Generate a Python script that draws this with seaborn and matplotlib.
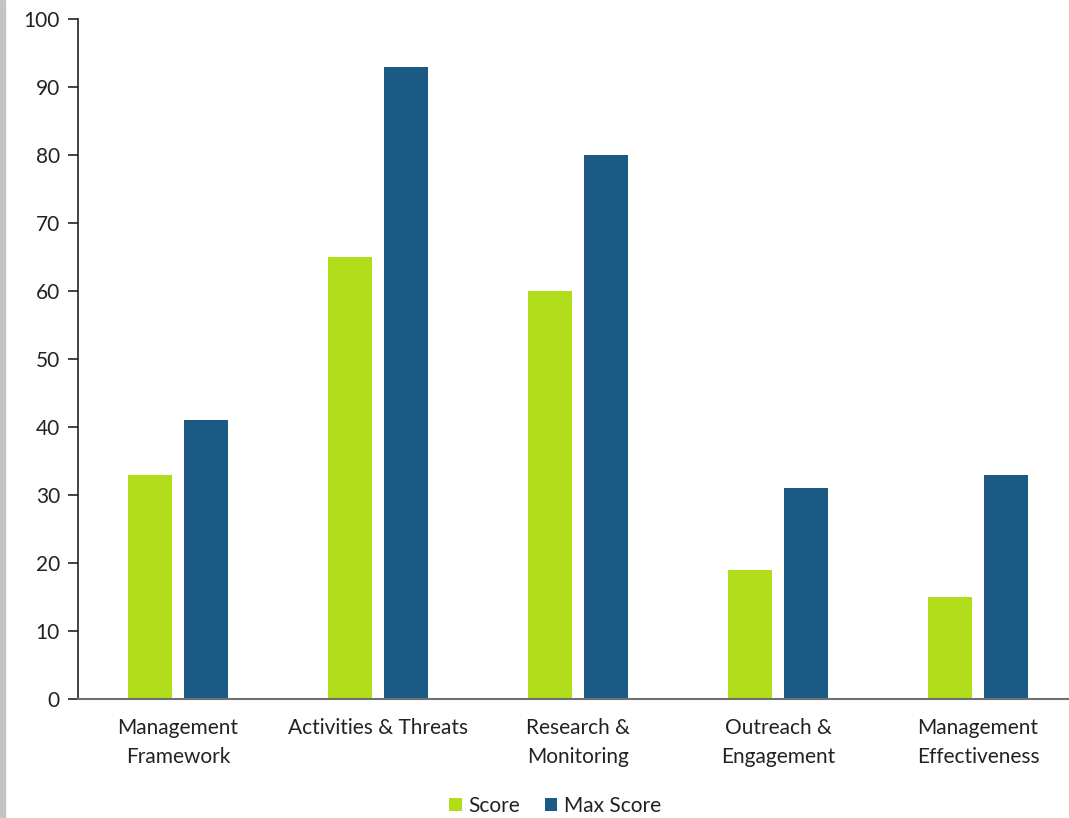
import matplotlib
matplotlib.use("Agg")
import matplotlib.pyplot as plt
import seaborn as sns
import pandas as pd
from matplotlib.patches import Rectangle

categories = ["Management\nFramework", "Activities & Threats", "Research &\nMonitoring",
              "Outreach &\nEngagement", "Management\nEffectiveness"]
score = [33, 65, 60, 19, 15]
max_score = [41, 93, 80, 31, 33]
series = ["Score", "Max Score"]
colors = ["#b0dc1a", "#1b5a84"]
yticks = list(range(0, 101, 10))

df = pd.DataFrame({
    "category": categories * 2,
    "value": score + max_score,
    "series": [series[0]] * len(categories) + [series[1]] * len(categories),
})

sns.set_theme(style="white")
plt.rcParams['font.family'] = ['Lato', 'DejaVu Sans']

fig = plt.figure(figsize=(10.69, 8.18), dpi=100)
ax = fig.add_axes([78/1069, 1 - 699/818, 1000/1069, 680/818])

sns.barplot(data=df, x="category", y="value", hue="series", palette=colors,
            width=0.56, gap=0.2, saturation=1, ax=ax, legend=True, linewidth=0)

ax.set_xlim(-0.5, 4.5)
ax.set_ylim(0, 100)
ax.set_yticks(yticks)
ax.set_xlabel("")
ax.set_ylabel("")
for s in ["top", "right"]:
    ax.spines[s].set_visible(False)
ax.spines["left"].set_color("#222222")
ax.spines["left"].set_linewidth(1.2)
ax.spines["bottom"].set_color("#707070")
ax.spines["bottom"].set_linewidth(1.5)
ax.spines["bottom"].set_zorder(5)
ax.tick_params(axis="y", which="both", left=True, length=7, width=1.2, color="#222222",
               labelsize=15, labelcolor="#222222", pad=6)
ax.tick_params(axis="x", bottom=False, labelsize=15, labelcolor="#222222", pad=8)
for lbl in ax.get_xticklabels():
    lbl.set_linespacing(1.55)

h, l = ax.get_legend_handles_labels()
ax.get_legend().remove()
fig.legend(h, l, loc="center", bbox_to_anchor=(555/1069, 1 - 806/818), ncol=2, frameon=False,
           fontsize=15, handlelength=0.6, handleheight=0.6, handletextpad=0.3,
           columnspacing=1.2, labelcolor="#222222")

fig.patches.append(Rectangle((0, 0), 5/1069, 1, transform=fig.transFigure,
                             color="#c4c4c4", zorder=10))

fig.savefig("out.png", dpi=100)
